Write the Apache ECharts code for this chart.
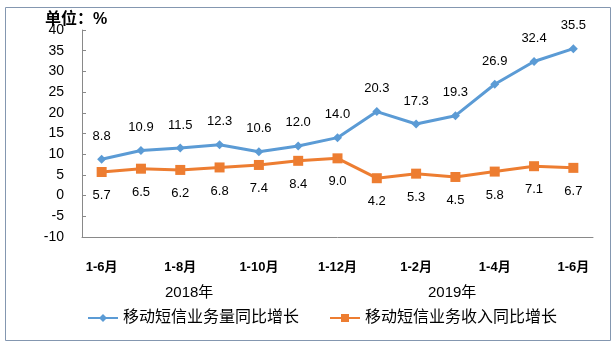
<!DOCTYPE html>
<html><head><meta charset="utf-8">
<script src="https://cdn.jsdelivr.net/npm/echarts@6/dist/echarts.min.js"></script>
<style>html,body{margin:0;padding:0;background:#fff}#c{width:613px;height:343px}</style>
</head><body><div id="c"></div>
<script>
const categories = ['1-6月','1-7月','1-8月','1-9月','1-10月','1-11月','1-12月','1月','1-2月','1-3月','1-4月','1-5月','1-6月'];
const volumeGrowth = [8.8,10.9,11.5,12.3,10.6,12.0,14.0,20.3,17.3,19.3,26.9,32.4,35.5];
const revenueGrowth = [5.7,6.5,6.2,6.8,7.4,8.4,9.0,4.2,5.3,4.5,5.8,7.1,6.7];
const seriesNames = ['移动短信业务量同比增长','移动短信业务收入同比增长'];
const yearLabels = ['2018年','2019年'];
const yTicks = {min:-10, max:40, interval:5};

const FONT = '"Liberation Sans","Noto Sans CJK SC",sans-serif';
const chart = echarts.init(document.getElementById('c'));
chart.setOption({
  animation:false,
  textStyle:{fontFamily:FONT},
  grid:{left:82,right:20,top:30,bottom:106,containLabel:false},
  legend:{
    bottom:12,left:82,itemGap:30,itemWidth:30,itemHeight:10,
    textStyle:{fontSize:16,color:'#000',fontFamily:FONT},
    data:seriesNames
  },
  xAxis:{
    type:'category',data:categories,boundaryGap:true,
    axisLine:{onZero:false,lineStyle:{color:'#898989',width:1}},
    axisTick:{inside:true,length:4,lineStyle:{color:'#898989'}},
    axisLabel:{interval:1,margin:24,fontSize:13,fontWeight:'bold',color:'#000',fontFamily:FONT},
    splitLine:{show:false}
  },
  yAxis:{
    type:'value',min:yTicks.min,max:yTicks.max,interval:yTicks.interval,
    axisLine:{show:true,lineStyle:{color:'#898989',width:1}},
    axisTick:{show:true,inside:true,length:4,lineStyle:{color:'#898989'}},
    axisLabel:{margin:18,fontSize:14,color:'#000',fontFamily:FONT},
    splitLine:{show:false}
  },
  series:[
    {name:seriesNames[0],type:'line',data:volumeGrowth,
     symbol:'diamond',symbolSize:9,
     lineStyle:{color:'#5b9bd5',width:3},itemStyle:{color:'#5b9bd5'},
     label:{show:true,position:'top',distance:12,fontSize:13,color:'#000',
            formatter:p=>p.value.toFixed(1)}},
    {name:seriesNames[1],type:'line',data:revenueGrowth,
     symbol:'rect',symbolSize:10,
     lineStyle:{color:'#ed7d31',width:3},itemStyle:{color:'#ed7d31'},
     label:{show:true,position:'bottom',distance:12,fontSize:13,color:'#000',
            formatter:p=>p.value.toFixed(1)}}
  ],
  graphic:[
    {type:'rect',left:3,top:5,shape:{width:605,height:333},
     style:{fill:'none',stroke:'#8497b0',lineWidth:1},silent:true},
    {type:'text',left:45,top:12,style:{text:'单位：%',font:'bold 16px '+FONT,fill:'#000'}},
    {type:'text',left:165,top:285,style:{text:yearLabels[0],font:'15px '+FONT,fill:'#000'}},
    {type:'text',left:428,top:285,style:{text:yearLabels[1],font:'15px '+FONT,fill:'#000'}}
  ]
});
</script></body></html>
